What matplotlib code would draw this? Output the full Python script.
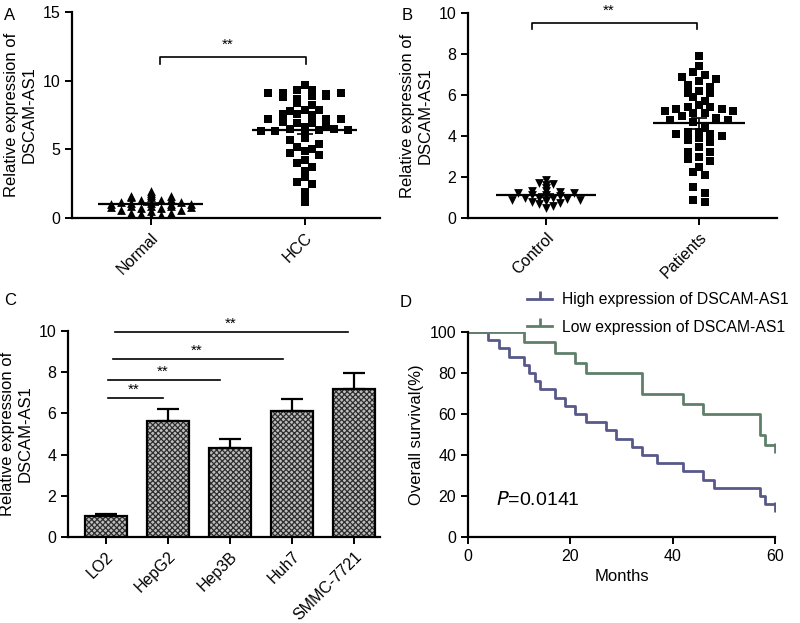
import numpy as np
import matplotlib
matplotlib.use("Agg")
import matplotlib.pyplot as plt
from matplotlib.lines import Line2D

plt.rcParams['font.family'] = ['Liberation Sans', 'DejaVu Sans']
plt.rcParams['font.size'] = 11
plt.rcParams['hatch.linewidth'] = 0.9

# ---- data ----
# panel A
normal_vals = [2.0, 1.8, 1.7, 1.6, 1.6, 1.5, 1.5, 1.4, 1.3, 1.3, 1.2, 1.2, 1.1, 1.1, 1.0, 1.0,
               1.0, 0.9, 0.9, 0.9, 0.8, 0.8, 0.7, 0.7, 0.6, 0.6, 0.5, 0.4, 0.4, 0.3, 0.2, 0.1]
hcc_vals = [9.7, 9.3, 9.3, 9.1, 9.0, 9.1, 9.1, 8.7, 8.9, 8.8, 8.9, 8.4, 8.2, 7.9, 7.8, 7.9,
            7.6, 7.5, 7.6, 7.2, 7.2, 7.2, 6.9, 6.9, 7.0, 6.8, 6.6, 6.5, 6.4, 6.3, 6.5, 6.3,
            6.4, 6.2, 5.8, 5.7, 5.4, 5.2, 5.0, 4.9, 4.7, 4.6, 4.2, 4.0, 3.7, 3.4, 3.0, 2.6,
            2.5, 1.9, 1.5, 1.2]
groups_a = ["Normal", "HCC"]

# panel B
control_vals = [1.85, 1.7, 1.65, 1.6, 1.45, 1.3, 1.3, 1.25, 1.2, 1.2, 1.1, 1.1, 1.05, 1.0,
                1.0, 1.0, 0.95, 0.9, 0.9, 0.85, 0.8, 0.75, 0.7, 0.6, 0.5]
patient_vals = [7.9, 7.4, 7.1, 7.0, 6.9, 6.8, 6.7, 6.5, 6.4, 6.2, 6.1, 6.1, 5.9, 5.7, 5.5,
                5.4, 5.4, 5.3, 5.3, 5.2, 5.2, 5.1, 5.1, 5.0, 4.9, 4.8, 4.8, 4.7, 4.4, 4.2,
                4.2, 4.1, 4.1, 4.0, 3.9, 3.8, 3.7, 3.45, 3.2, 3.2, 3.0, 2.9, 2.8, 2.5, 2.25,
                2.1, 1.5, 1.2, 0.9, 0.8]
groups_b = ["Control", "Patients"]

# panel C
cell_lines = ["LO2", "HepG2", "Hep3B", "Huh7", "SMMC-7721"]
cell_means = [1.0, 5.65, 4.3, 6.1, 7.2]
cell_err = [0.12, 0.55, 0.45, 0.6, 0.75]
# significance lines: (start, end, height)
sig_lines = [(0.15, 3.9, 9.95), (0.11, 2.85, 8.65), (0.03, 1.84, 7.6), (0.03, 0.92, 6.75)]

# panel D
high_times = [0, 4, 6, 8, 11, 12, 13, 14, 17, 19, 21, 23, 27, 29, 32, 34, 37, 42, 46, 48, 57, 58, 60]
high_surv = [100, 96, 92, 88, 84, 80, 76, 72, 68, 64, 60, 56, 52, 48, 44, 40, 36, 32, 28, 24, 20, 16, 16]
low_times = [0, 11, 17, 21, 23, 34, 42, 46, 57, 58, 60]
low_surv = [100, 95, 90, 85, 80, 70, 65, 60, 50, 45, 45]

high_col = '#58588a'
low_col = '#5f7f6a'


def swarm_offsets(vals, bin_h, dx):
	vals = np.asarray(vals, dtype=float)
	offs = np.zeros(len(vals))
	bins = np.floor(vals / bin_h + 1e-6).astype(int)
	for b in np.unique(bins):
		idx = np.where(bins == b)[0]
		k = len(idx)
		# center-out ordering
		pos = np.arange(k) - (k - 1) / 2.0
		order = np.argsort(np.abs(pos), kind='stable')
		offs[idx] = pos[order] * dx
	return offs


def style_axes(ax):
	for s in ['top', 'right']:
		ax.spines[s].set_visible(False)
	for s in ['left', 'bottom']:
		ax.spines[s].set_linewidth(1.6)
	ax.tick_params(width=1.4, length=5, labelsize=11.5)


def column_scatter(ax, pos, vals, marker, bin_h, dx, hw):
	offs = swarm_offsets(vals, bin_h, dx)
	ax.scatter(pos + offs, vals, marker=marker, s=40, c='black', linewidths=0, zorder=3)
	m = np.mean(vals)
	sem = np.std(vals, ddof=1) / np.sqrt(len(vals))
	ax.hlines(m, pos - hw, pos + hw, color='black', lw=1.6, zorder=4)
	ax.errorbar([pos], [m], yerr=[sem], fmt='none', ecolor='black', elinewidth=1.2,
	            capsize=6, capthick=1.2, zorder=4)


def bracket(ax, x0, x1, y, drop, txt_y, txt_x):
	ax.plot([x0, x0, x1, x1], [y - drop, y, y, y - drop], color='black', lw=1.2, clip_on=False)
	ax.text(txt_x, txt_y, '**', ha='center', va='center', fontsize=11, clip_on=False)


fig = plt.figure(figsize=(8, 6.23), dpi=100)
W, H = 800.0, 623.0


def add_ax(l, r, t, b):
	return fig.add_axes([l / W, 1 - b / H, (r - l) / W, (b - t) / H])


# ---- A ----
axA = add_ax(72, 380, 12, 218)
column_scatter(axA, 0, normal_vals, '^', 0.2, 0.13, 0.34)
column_scatter(axA, 1, hcc_vals, 's', 0.45, 0.095, 0.34)
axA.set_xlim(-0.51, 1.49)
axA.set_ylim(0, 15)
axA.set_yticks([0, 5, 10, 15])
axA.set_xticks([0, 1])
axA.set_xticklabels(groups_a, rotation=45, ha='right', rotation_mode='anchor')
axA.set_ylabel('Relative expression of\nDSCAM-AS1', fontsize=12)
style_axes(axA)
bracket(axA, 0.06, 1.01, 11.7, 0.45, 12.6, 0.5)

# ---- B ----
axB = add_ax(468, 777, 13, 218)
column_scatter(axB, 0, control_vals, 'v', 0.15, 0.09, 0.33)
column_scatter(axB, 1, patient_vals, 's', 0.4, 0.075, 0.30)
axB.set_xlim(-0.51, 1.51)
axB.set_ylim(0, 10)
axB.set_yticks([0, 2, 4, 6, 8, 10])
axB.set_xticks([0, 1])
axB.set_xticklabels(groups_b, rotation=45, ha='right', rotation_mode='anchor')
axB.set_ylabel('Relative expression of\nDSCAM-AS1', fontsize=12)
style_axes(axB)
bracket(axB, -0.09, 0.99, 9.5, 0.3, 10.1, 0.41)

# ---- C ----
axC = add_ax(68, 380, 331, 537)
xc = np.arange(len(cell_lines))
axC.bar(xc, cell_means, width=0.68, color='#bdbdbd', edgecolor='#2e2e2e', linewidth=0,
        hatch='xxxxxx', zorder=2)
axC.bar(xc, cell_means, width=0.68, fill=False, edgecolor='black', linewidth=1.6, zorder=3)
axC.errorbar(xc, cell_means, yerr=[np.zeros(len(xc)), cell_err], fmt='none', ecolor='black',
             elinewidth=1.6, capsize=8, capthick=1.6, zorder=3)
for x0, x1, y in sig_lines:
	axC.plot([x0, x1], [y, y], color='black', lw=1.2, clip_on=False)
	axC.text((x0 + x1) / 2 - 0.02, y + 0.4, '**', ha='center', va='center', fontsize=11,
	         clip_on=False)
axC.set_xlim(-0.61, 4.42)
axC.set_ylim(0, 10)
axC.set_yticks([0, 2, 4, 6, 8, 10])
axC.set_xticks(xc)
axC.set_xticklabels(cell_lines, rotation=45, ha='right', rotation_mode='anchor')
axC.set_ylabel('Relative expression of\nDSCAM-AS1', fontsize=12)
style_axes(axC)

# ---- D ----
axD = add_ax(468, 775, 332, 537)
axD.step(high_times, high_surv, where='post', color=high_col, lw=2)
axD.step(low_times, low_surv, where='post', color=low_col, lw=2)
axD.plot([high_times[-1]], [high_surv[-1] - 1.5], marker='|', ms=7, mew=2, color=high_col)
axD.plot([low_times[-1]], [low_surv[-1] - 1.5], marker='|', ms=7, mew=2, color=low_col)
axD.set_xlim(0, 60)
axD.set_ylim(0, 100)
axD.set_xticks([0, 20, 40, 60])
axD.set_yticks([0, 20, 40, 60, 80, 100])
axD.set_xlabel('Months', fontsize=12)
axD.set_ylabel('Overall survival(%)', fontsize=12)
style_axes(axD)
axD.text(5.5, 18, r'$\it{P}$=0.0141', fontsize=14, va='center')
handles = [Line2D([0], [0], color=high_col, lw=2, marker=2, ms=6, mew=2),
           Line2D([0], [0], color=low_col, lw=2, marker=2, ms=6, mew=2)]
fig.legend(handles, ['High expression of DSCAM-AS1', 'Low expression of DSCAM-AS1'],
           loc='upper left', bbox_to_anchor=(521 / W, 1 - 286 / H), frameon=False,
           fontsize=11.3, handlelength=1.6, labelspacing=0.8, handletextpad=0.6,
           borderaxespad=0)

# panel letters
fig.text(4 / W, 1 - 20 / H, 'A', fontsize=12)
fig.text(402 / W, 1 - 20 / H, 'B', fontsize=12)
fig.text(4 / W, 1 - 305 / H, 'C', fontsize=12)
fig.text(400 / W, 1 - 307 / H, 'D', fontsize=12)

fig.savefig('out.png', dpi=100)
